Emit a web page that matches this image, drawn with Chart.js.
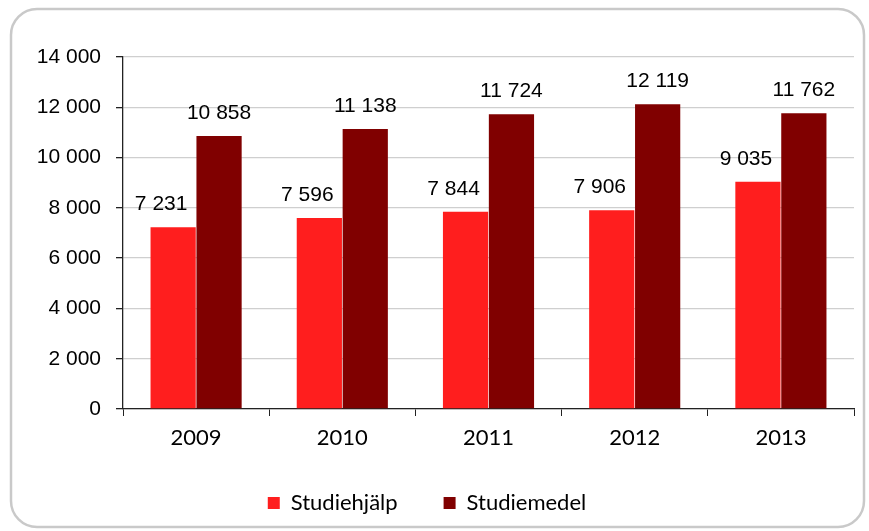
<!DOCTYPE html>
<html lang="sv">
<head>
<meta charset="utf-8">
<title>Studiehjälp och studiemedel 2009–2013</title>
<script src="https://cdn.jsdelivr.net/npm/chart.js@4.4.1/dist/chart.umd.min.js"></script>
<style>
  html, body { margin: 0; padding: 0; background: #ffffff; }
  #wrap { position: relative; width: 869px; height: 531px; }
  canvas { display: block; }
</style>
</head>
<body>
<div id="wrap"><canvas id="chart" width="869" height="531"></canvas></div>
<script>
// Years on the category axis
const years = ['2009', '2010', '2011', '2012', '2013'];
// Number of recipients per year
const studiehjalp = [7231, 7596, 7844, 7906, 9035];
const studiemedel = [10858, 11138, 11724, 12119, 11762];
// Value axis range and step
const yMin = 0;
const yMax = 14000;
const yStep = 2000;

const fmt = v => String(Math.round(v)).replace(/\B(?=(\d{3})+(?!\d))/g, ' ');

// Rounded outer frame around the whole chart
const framePlugin = {
  id: 'frame',
  beforeDraw(chart) {
    const ctx = chart.ctx;
    ctx.save();
    ctx.fillStyle = '#ffffff';
    ctx.fillRect(0, 0, chart.width, chart.height);
    ctx.beginPath();
    ctx.roundRect(11, 9, 853, 518, 26);
    ctx.lineWidth = 2.5;
    ctx.strokeStyle = '#c9c9c9';
    ctx.stroke();
    ctx.restore();
  }
};

// Value labels above each bar
const valueLabels = {
  id: 'valueLabels',
  afterDatasetsDraw(chart) {
    const ctx = chart.ctx;
    ctx.save();
    ctx.font = '21px "Liberation Sans", Arial, sans-serif';
    ctx.fillStyle = '#000000';
    ctx.textAlign = 'center';
    ctx.textBaseline = 'middle';
    chart.data.datasets.forEach((ds, di) => {
      const meta = chart.getDatasetMeta(di);
      const dx = di === 0 ? -12 : 0;
      meta.data.forEach((bar, i) => {
        ctx.fillText(fmt(ds.data[i]), bar.x + dx, bar.y - 23);
      });
    });
    ctx.restore();
  }
};

new Chart(document.getElementById('chart'), {
  type: 'bar',
  data: {
    labels: years,
    datasets: [
      {
        label: 'Studiehjälp',
        data: studiehjalp,
        backgroundColor: '#ff1e1e',
        categoryPercentage: 0.628,
        barPercentage: 0.985
      },
      {
        label: 'Studiemedel',
        data: studiemedel,
        backgroundColor: '#800000',
        categoryPercentage: 0.628,
        barPercentage: 0.985
      }
    ]
  },
  options: {
    responsive: false,
    animation: false,
    devicePixelRatio: 1,
    layout: { padding: { left: 0, right: 15, top: 57, bottom: 7 } },
    plugins: {
      tooltip: { enabled: false },
      legend: {
        position: 'bottom',
        align: 'center',
        labels: {
          color: '#000000',
          font: { family: 'Lato, "Open Sans", sans-serif', size: 22 },
          boxWidth: 12,
          boxHeight: 12,
          padding: 46
        }
      }
    },
    scales: {
      x: {
        grid: {
          offset: true,
          drawOnChartArea: false,
          drawTicks: true,
          tickLength: 7,
          tickColor: '#222222'
        },
        border: { display: true, color: '#222222', width: 1.3 },
        ticks: {
          color: '#000000',
          font: { family: 'Lato, "Open Sans", sans-serif', size: 22 },
          padding: 9
        },
        afterFit(scale) { scale.height = 37; }
      },
      y: {
        min: yMin,
        max: yMax,
        grid: {
          color: '#cfcfcf',
          lineWidth: 1.3,
          drawTicks: true,
          tickLength: 7,
          tickColor: '#222222'
        },
        border: { display: true, color: '#222222', width: 1.3 },
        ticks: {
          stepSize: yStep,
          color: '#000000',
          font: { family: '"Liberation Sans", Arial, sans-serif', size: 21 },
          padding: 15,
          callback: v => fmt(v)
        },
        afterFit(scale) { scale.width = 123; }
      }
    }
  },
  plugins: [framePlugin, valueLabels]
});
</script>
</body>
</html>
